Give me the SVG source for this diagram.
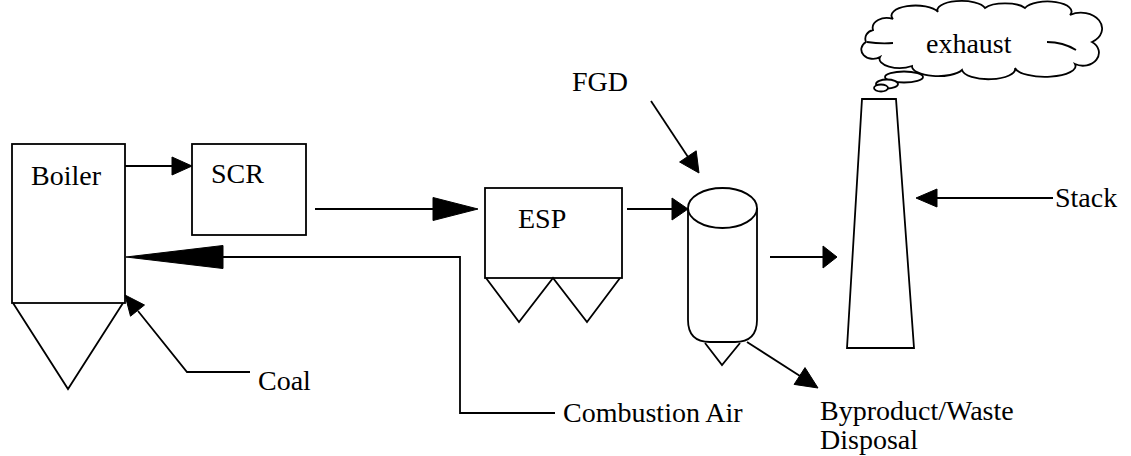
<svg xmlns="http://www.w3.org/2000/svg" width="1131" height="456" viewBox="0 0 1131 456">
<style>
.s{fill:none;stroke:#000;stroke-width:1.8;stroke-linejoin:miter}
.w{fill:#fff;stroke:#000;stroke-width:1.8}
.h{fill:#000;stroke:#000;stroke-width:1}
text{font-family:"Liberation Serif","Times New Roman",serif;font-size:28px;fill:#000}
</style>
<rect width="1131" height="456" fill="#fff"/>
<g id="boiler">
<rect class="s" x="12" y="144" width="113" height="159"/>
<polyline class="s" points="13,303 68,389 123,303"/>
<text x="31" y="185">Boiler</text>
</g>
<g id="scr">
<rect class="s" x="192" y="144" width="114" height="91"/>
<text x="211" y="183">SCR</text>
</g>
<g id="esp">
<rect class="s" x="485" y="188" width="137" height="90"/>
<polyline class="s" points="486,278 519,322 553,278 587,322 620,278"/>
<text x="518" y="228">ESP</text>
</g>
<g id="fgd">
<path class="s" d="M688,208 L688,320 Q688,342 710,342 L735,342 Q757,342 757,320 L757,208"/>
<ellipse class="s" cx="722.5" cy="208" rx="34.5" ry="20"/>
<polyline class="s" points="705,343 722,365 740,343"/>
</g>
<g id="stack">
<polygon class="s" points="862,99 896,99 914,348 847,348"/>
</g>
<g id="exhaust">
<path class="w" d="M866,42 A10,9 0 0 1 873,30 A14,10 0 0 1 893,19 A24,10 0 0 1 938,12 A24,9 0 0 1 985,8 A22,8 0 0 1 1025,8 A24,10 0 0 1 1070,15 A16,12 0 0 1 1092,42 A16,13 0 0 1 1075,64 A28,10 0 0 1 1015,68 A26,10 0 0 1 962,70 A26,10 0 0 1 912,66 A20,9 0 0 1 880,57 A10,8 0 0 1 866,42 Z"/>
<path class="s" d="M867,42 Q880,44 893,43"/>
<path class="s" d="M1047,42 Q1063,42 1076,50"/>
<ellipse class="w" cx="904" cy="77" rx="19" ry="5.5"/>
<ellipse class="w" cx="887" cy="84" rx="11" ry="4.5"/>
<ellipse class="w" cx="881" cy="88" rx="7" ry="3.5"/>
<text x="926" y="53">exhaust</text>
</g>
<g id="labels">
<text x="572" y="91">FGD</text>
<text x="1055" y="207">Stack</text>
<text x="258" y="390">Coal</text>
<text x="563" y="422">Combustion Air</text>
<text x="820" y="420">Byproduct/Waste</text>
<text x="820" y="449">Disposal</text>
</g>
<g id="connectors">
<line class="s" x1="125" y1="166" x2="173" y2="166"/>
<polygon class="h" points="192,166 172,157 172,175"/>
<line class="s" x1="315" y1="209" x2="435" y2="209"/>
<polygon class="h" points="478,209 433,197.5 433,220.5"/>
<polyline class="s" points="555,413 460,413 460,257 222,257"/>
<polygon class="h" points="126,257 223,245.5 223,268.5"/>
<polyline class="s" points="250,372 187,372 138,311"/>
<polygon class="h" points="125,295 144.5,305 130.5,316.2"/>
<line class="s" x1="651" y1="101" x2="688" y2="157"/>
<polygon class="h" points="699,173 696.2,150.8 679.6,162"/>
<line class="s" x1="627" y1="209" x2="673" y2="209"/>
<polygon class="h" points="688,209 672,198 672,220"/>
<line class="s" x1="770" y1="257" x2="824" y2="257"/>
<polygon class="h" points="837,257 823,246 823,268"/>
<line class="s" x1="1053" y1="198" x2="936" y2="198"/>
<polygon class="h" points="916,198 937,189 937,207"/>
<line class="s" x1="747" y1="342" x2="800" y2="376"/>
<polygon class="h" points="818,388 794.1,384.4 805,367.6"/>
</g>
</svg>
